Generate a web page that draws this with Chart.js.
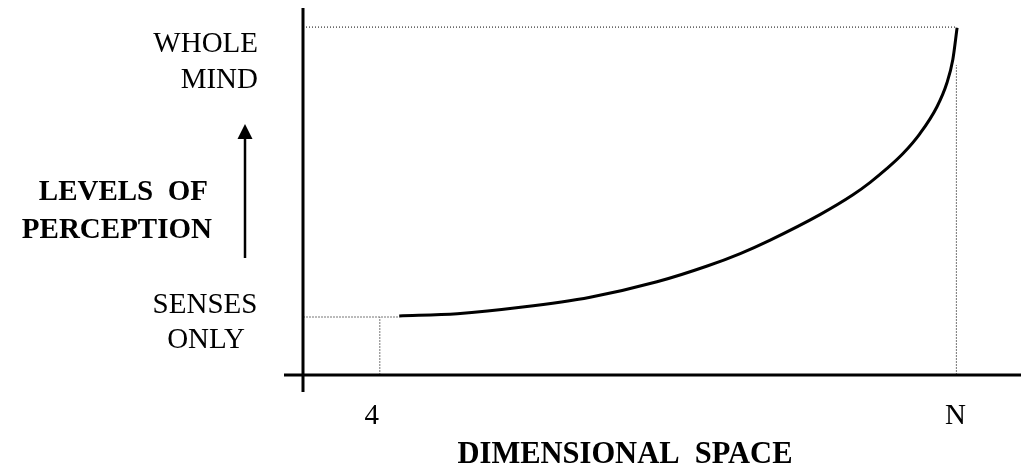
<!DOCTYPE html>
<html>
<head>
<meta charset="utf-8">
<script src="https://cdn.jsdelivr.net/npm/chart.js@4/dist/chart.umd.min.js"></script>
<style>
  html, body { margin: 0; padding: 0; background: #fff; }
</style>
</head>
<body>
<canvas id="chart" width="1021" height="467"></canvas>
<script>
// Curve (x: 0..100 along the axis, y: 0..100 up the axis).
const curveX = [13.4, 21.5, 30.6, 40.0, 49.3, 56.3, 60.9, 65.0, 72.0, 76.6, 79.0, 81.3, 83.6, 85.9, 88.3, 89.7, 90.5, 91.1];
const curveY = [16.1, 16.7, 18.5, 21.2, 25.4, 29.7, 33.1, 36.7, 43.7, 49.1, 52.5, 56.2, 60.4, 65.7, 73.1, 79.7, 85.9, 94.6];

const levelY = [15.8, 94.8];      // senses only, whole mind
const levelLabels = [['SENSES', 'ONLY'], ['WHOLE', 'MIND']];
const tickX = [10.7, 91.0];       // 4, N
const tickLabels = ['4', 'N'];
const rightGuideTop = 84.5;

const serif = '"Liberation Serif", "Times New Roman", serif';

function guide(points, color, dash) {
  return {
    data: points,
    borderColor: color,
    borderWidth: 1,
    borderDash: dash,
    pointRadius: 0,
    fill: false
  };
}

const sketch = {
  id: 'sketch',
  afterDraw(chart) {
    const ctx = chart.ctx;
    const x = chart.scales.x;
    const y = chart.scales.y;
    const x0 = x.getPixelForValue(0);
    const y0 = y.getPixelForValue(0);

    // axes, crossing a little past the origin
    ctx.save();
    ctx.strokeStyle = '#000';
    ctx.lineWidth = 3;
    ctx.beginPath();
    ctx.moveTo(x0, chart.chartArea.top);
    ctx.lineTo(x0, y0 + 17);
    ctx.moveTo(x0 - 19, y0);
    ctx.lineTo(chart.chartArea.right, y0);
    ctx.stroke();

    // arrow up
    ctx.lineWidth = 2.5;
    ctx.beginPath();
    ctx.moveTo(245, 258);
    ctx.lineTo(245, 136);
    ctx.stroke();
    ctx.fillStyle = '#000';
    ctx.beginPath();
    ctx.moveTo(245, 124);
    ctx.lineTo(237.5, 139);
    ctx.lineTo(252.5, 139);
    ctx.closePath();
    ctx.fill();

    ctx.fillStyle = '#000';
    ctx.textBaseline = 'alphabetic';

    // level labels
    ctx.font = '29px ' + serif;
    ctx.textAlign = 'right';
    const topY = y.getPixelForValue(levelY[1]);
    ctx.fillText(levelLabels[1][0], 258, topY + 25);
    ctx.fillText(levelLabels[1][1], 258, topY + 61);
    ctx.textAlign = 'center';
    const lowY = y.getPixelForValue(levelY[0]);
    ctx.fillText(levelLabels[0][0], 205, lowY - 4);
    ctx.fillText(levelLabels[0][1], 206, lowY + 31);

    // x tick labels
    tickLabels.forEach((t, i) => {
      ctx.fillText(t, x.getPixelForValue(tickX[i]) - (i === 0 ? 8 : 1), y0 + 49);
    });

    // titles
    ctx.font = 'bold 29px ' + serif;
    ctx.textAlign = 'right';
    ctx.fillText('LEVELS  OF', 208, 200);
    ctx.fillText('PERCEPTION', 212, 238);
    ctx.textAlign = 'center';
    ctx.font = 'bold 30.5px ' + serif;
    ctx.fillText('DIMENSIONAL  SPACE', 625, 463);
    ctx.restore();
  }
};

new Chart(document.getElementById('chart'), {
  type: 'line',
  data: {
    datasets: [
      {
        data: curveX.map((v, i) => ({ x: v, y: curveY[i] })),
        borderColor: '#000',
        borderWidth: 3,
        pointRadius: 0,
        cubicInterpolationMode: 'monotone',
        fill: false
      },
      guide([{ x: 0, y: levelY[1] }, { x: tickX[1], y: levelY[1] }], '#000', [1, 2]),
      guide([{ x: tickX[1], y: 0 }, { x: tickX[1], y: rightGuideTop }], '#777', [2, 1]),
      guide([{ x: 0, y: levelY[0] }, { x: curveX[0], y: levelY[0] }], '#777', [2, 1]),
      guide([{ x: tickX[0], y: 0 }, { x: tickX[0], y: levelY[0] }], '#777', [2, 1])
    ]
  },
  options: {
    responsive: false,
    animation: false,
    layout: { padding: { left: 303, top: 8, right: 0, bottom: 92 } },
    plugins: { legend: { display: false }, tooltip: { enabled: false } },
    scales: {
      x: { type: 'linear', min: 0, max: 100, display: false },
      y: { type: 'linear', min: 0, max: 100, display: false }
    }
  },
  plugins: [sketch]
});
</script>
</body>
</html>
